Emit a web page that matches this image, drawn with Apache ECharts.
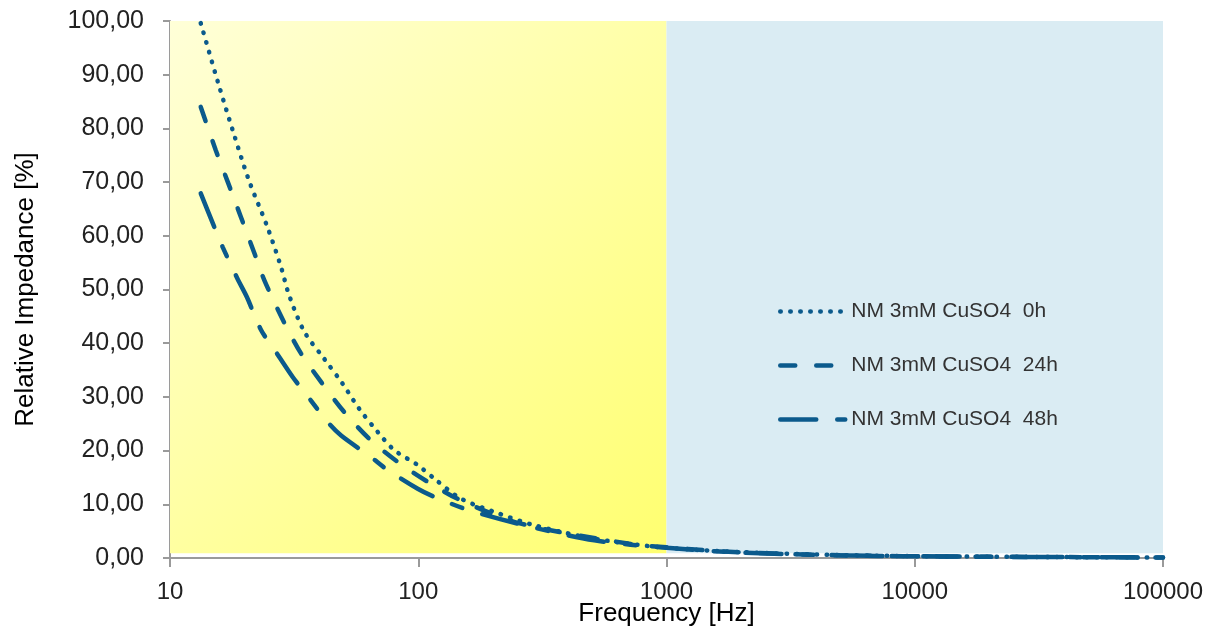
<!DOCTYPE html>
<html>
<head>
<meta charset="utf-8">
<script src="https://cdn.jsdelivr.net/npm/echarts@6/dist/echarts.min.js"></script>
<style>
html,body{margin:0;padding:0;background:#fff;}
#chart{width:1209px;height:629px;}
</style>
</head>
<body>
<div id="chart"></div>
<script>
// ---- data ----
var seriesNames = ['NM 3mM CuSO4  0h', 'NM 3mM CuSO4  24h', 'NM 3mM CuSO4  48h'];

var freq0h = [13.3, 15.6, 17.9, 20.8, 24.7, 28, 30.2, 34.8, 41.8, 49.5, 57.8, 68.6, 80, 99.5, 116, 148, 202, 293, 512, 948, 2000, 5000, 10000, 20000, 50000, 100000];
var imp0h  = [99.6, 88.6, 79.6, 70.3, 61.6, 54.2, 48.9, 42.1, 37.1, 32.5, 27.8, 23.5, 20.1, 17.3, 14.8, 11.1, 8.6, 6.1, 3.6, 2.0, 1.1, 0.55, 0.35, 0.25, 0.15, 0.1];

var freq24h = [13.3, 15.3, 17.1, 19.3, 21.9, 24.0, 28.8, 33.7, 40.6, 50.3, 63.5, 82.6, 109, 149, 259, 697, 1000, 2000, 5000, 10000, 20000, 50000, 100000];
var imp24h  = [84.0, 75.9, 70.0, 63.5, 56.7, 51.7, 43.9, 38.1, 32.8, 27.2, 22.2, 17.9, 14.2, 10.7, 6.4, 2.7, 2.0, 1.05, 0.5, 0.33, 0.24, 0.15, 0.1];

var freq48h = [13.3, 15.1, 16.3, 18.7, 20.4, 23.3, 25.9, 31.2, 34.8, 43.2, 48.9, 64.5, 74.2, 99.5, 116, 160, 267, 512, 1000, 2000, 5000, 10000, 20000, 50000, 100000];
var imp48h  = [67.9, 61.6, 57.9, 52.0, 48.6, 42.4, 39.3, 33.7, 30.9, 25.3, 22.8, 18.8, 16.6, 12.9, 11.4, 8.9, 6.1, 3.3, 1.9, 1.0, 0.5, 0.32, 0.23, 0.15, 0.1];

var xTicks = [10, 100, 1000, 10000, 100000];
var yTicks = [0, 10, 20, 30, 40, 50, 60, 70, 80, 90, 100];

function pairs(xs, ys) {
  var out = [];
  for (var i = 0; i < xs.length; i++) out.push([xs[i], ys[i]]);
  return out;
}

var lineColor = '#0b5a8c';
var font = 'Liberation Sans, Arial, sans-serif';

var chart = echarts.init(document.getElementById('chart'), null, {renderer: 'canvas'});

var option = {
  animation: false,
  backgroundColor: '#ffffff',
  grid: {left: 170, right: 46, top: 21, bottom: 71, containLabel: false, outerBoundsMode: 'none'},
  xAxis: {
    type: 'log',
    logBase: 10,
    min: xTicks[0],
    max: xTicks[xTicks.length - 1],
    name: 'Frequency [Hz]',
    nameLocation: 'middle',
    nameGap: 43,
    nameMoveOverlap: false,
    nameTextStyle: {fontFamily: font, fontSize: 26, color: '#000'},
    axisLine: {lineStyle: {color: '#9a9a9a', width: 2}},
    axisTick: {show: true, inside: false, length: 9, lineStyle: {color: '#9a9a9a', width: 2}},
    axisLabel: {
      fontFamily: font, fontSize: 24, color: '#222', margin: 22,
      formatter: function (v) { return String(Math.round(v)); }
    },
    splitLine: {show: false},
    minorTick: {show: false}
  },
  yAxis: {
    type: 'value',
    min: yTicks[0],
    max: yTicks[yTicks.length - 1],
    interval: 10,
    name: 'Relative Impedance [%]',
    nameLocation: 'middle',
    nameGap: 131,
    nameMoveOverlap: false,
    nameTextStyle: {fontFamily: font, fontSize: 26, color: '#000'},
    axisLine: {show: true, lineStyle: {color: '#9a9a9a', width: 2}},
    axisTick: {show: true, inside: false, length: 7, lineStyle: {color: '#9a9a9a', width: 2}},
    axisLabel: {
      fontFamily: font, fontSize: 25, color: '#222', margin: 26,
      formatter: function (v) { return v.toFixed(2).replace('.', ','); }
    },
    splitLine: {show: false}
  },
  legend: {
    data: seriesNames,
    orient: 'vertical',
    left: 773,
    top: 296,
    itemWidth: 65,
    itemHeight: 14,
    itemGap: 33,
    itemStyle: {opacity: 0},
    lineStyle: {width: 4.5, cap: 'round'},
    textStyle: {fontFamily: font, fontSize: 21, color: '#333', padding: [0, 0, 0, 1]},
    selectedMode: false
  },
  series: [
    {
      type: 'line',
      name: '__bg',
      data: [],
      silent: true,
      z: 1,
      markArea: {
        silent: true,
        label: {show: false},
        data: [
          [
            {xAxis: 10, yAxis: 0.9, itemStyle: {color: {
              type: 'linear', x: 0, y: 0, x2: 1, y2: 1,
              colorStops: [{offset: 0, color: '#ffffd8'}, {offset: 1, color: '#ffff70'}]
            }}},
            {xAxis: 1000, yAxis: 100}
          ],
          [
            {xAxis: 1000, yAxis: 0.9, itemStyle: {color: '#daecf3'}},
            {xAxis: 100000, yAxis: 100}
          ]
        ]
      }
    },
    {
      type: 'line',
      name: seriesNames[0],
      data: pairs(freq0h, imp0h),
      symbol: 'none',
      smooth: 0.3,
      z: 3,
      lineStyle: {color: lineColor, width: 4.5, type: [0.5, 9.5], cap: 'round'},
      itemStyle: {color: lineColor}
    },
    {
      type: 'line',
      name: seriesNames[1],
      data: pairs(freq24h, imp24h),
      symbol: 'none',
      smooth: 0.3,
      z: 3,
      lineStyle: {color: lineColor, width: 4.5, type: [15, 21], cap: 'round'},
      itemStyle: {color: lineColor}
    },
    {
      type: 'line',
      name: seriesNames[2],
      data: pairs(freq48h, imp48h),
      symbol: 'none',
      smooth: 0.3,
      z: 3,
      lineStyle: {color: lineColor, width: 4.5, type: [36, 21, 11, 21], cap: 'round'},
      itemStyle: {color: lineColor}
    }
  ]
};

chart.setOption(option);
</script>
</body>
</html>
